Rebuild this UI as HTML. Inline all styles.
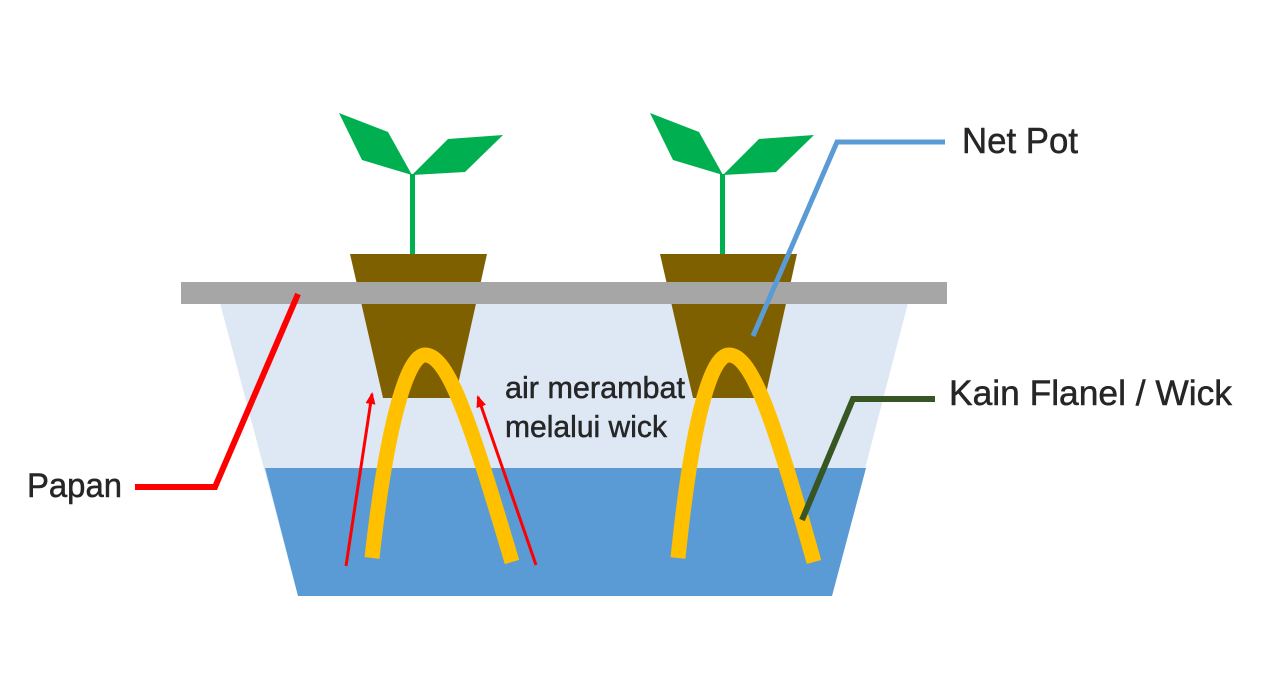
<!DOCTYPE html>
<html>
<head>
<meta charset="utf-8">
<style>
  html, body { margin: 0; padding: 0; background: #ffffff; }
  body { width: 1270px; height: 700px; overflow: hidden; }
  svg { display: block; }
  text { font-family: "Liberation Sans", Arial, sans-serif; fill: #262626; stroke: #262626; stroke-width: 0.5; }
</style>
</head>
<body>
<svg width="1270" height="700" viewBox="0 0 1270 700" xmlns="http://www.w3.org/2000/svg">
  <defs>
    <marker id="ah" markerWidth="12" markerHeight="10" refX="10" refY="5" orient="auto" markerUnits="userSpaceOnUse">
      <path d="M0,0 L12,5 L0,10 Z" fill="#ff0000"/>
    </marker>
  </defs>

  <!-- tank (light) -->
  <polygon points="220,303 908,303 832,596 298,596" fill="#dde8f4"/>
  <!-- water -->
  <polygon points="265,468 866,468 832,596 298,596" fill="#5b9bd5"/>

  <!-- plant 1 -->
  <polygon points="339,113 388,132 412,175 362,160" fill="#00b050"/>
  <polygon points="412,175 448,139 503,135 465,172" fill="#00b050"/>
  <rect x="410" y="174" width="5" height="84" fill="#00b050"/>
  <polygon points="350,254 487,254 455,398 383,398" fill="#7f6000"/>

  <!-- plant 2 -->
  <polygon points="650,113 699,132 723,175 673,160" fill="#00b050"/>
  <polygon points="723,175 759,139 814,135 776,172" fill="#00b050"/>
  <rect x="720" y="174" width="5" height="84" fill="#00b050"/>
  <polygon points="660,254 797,254 765,398 693,398" fill="#7f6000"/>

  <!-- board -->
  <rect x="181" y="282" width="766" height="22" fill="#a6a6a6"/>

  <!-- wicks -->
  <path d="M372,558 C385,440 405,355 425,355 C448,355 470,420 512,562" fill="none" stroke="#ffc000" stroke-width="15"/>
  <path d="M678,558 C690,440 708,355 729,355 C752,355 774,420 814,562" fill="none" stroke="#ffc000" stroke-width="15"/>

  <!-- red arrows -->
  <line x1="346" y1="566" x2="372" y2="394" stroke="#ff0000" stroke-width="3" marker-end="url(#ah)"/>
  <line x1="536" y1="565" x2="478" y2="397" stroke="#ff0000" stroke-width="3" marker-end="url(#ah)"/>

  <!-- callout lines -->
  <polyline points="298,294 215,487 135,487" fill="none" stroke="#ff0000" stroke-width="6"/>
  <polyline points="753,336 837,142 945,142" fill="none" stroke="#5b9bd5" stroke-width="5"/>
  <polyline points="802,520 853,399 935,399" fill="none" stroke="#375623" stroke-width="6"/>

  <!-- labels -->
  <text x="962" y="153" font-size="36" textLength="116" lengthAdjust="spacingAndGlyphs">Net Pot</text>
  <text x="949" y="405" font-size="35" textLength="283" lengthAdjust="spacingAndGlyphs">Kain Flanel / Wick</text>
  <text x="27" y="497" font-size="34" textLength="95" lengthAdjust="spacingAndGlyphs">Papan</text>
  <text x="505" y="398" font-size="31" textLength="180" lengthAdjust="spacingAndGlyphs">air merambat</text>
  <text x="505" y="437" font-size="31" textLength="162" lengthAdjust="spacingAndGlyphs">melalui wick</text>
</svg>
</body>
</html>
